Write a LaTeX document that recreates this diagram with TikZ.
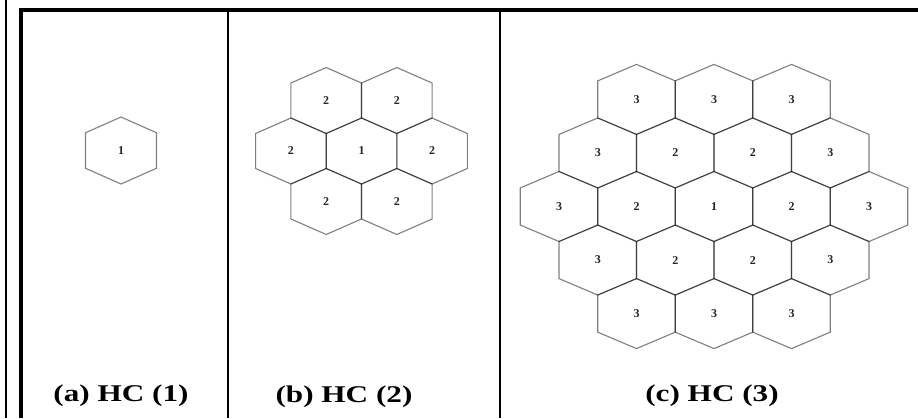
\documentclass[tikz,border=0pt]{standalone}
\usepackage{fontspec}
\setmainfont{Liberation Serif}

\tikzset{
  hexline/.style={draw=black, draw opacity=0.5, line width=1.1pt},
  cell/.style={font=\bfseries\fontsize{12}{12}\selectfont, text=black!85, inner sep=0pt},
  caption/.style={font=\bfseries\fontsize{24}{26}\selectfont, anchor=base, xscale=1.3, transform shape},
  frame/.style={line width=2.6pt}
}

% one honeycomb cell: name, column, row, number
\newcommand{\hexcell}[4]{%
  \draw[hexline] (#2,#3*1.53) +(0,-1) -- +(0.5,-0.53) -- +(0.5,0.53) -- +(0,1)
    -- +(-0.5,0.53) -- +(-0.5,-0.53) -- cycle;
  \node[cell] (#1) at (#2,#3*1.53) {#4};}

\begin{document}
\begin{tikzpicture}[x=1pt, y=-1pt]
  \useasboundingbox (0,0) rectangle (918,418);
  \fill[white] (0,0) rectangle (918,418);

  % frame
  \draw[line width=1.2pt] (6,0) -- (6,418);
  \draw[frame, line width=3.2pt] (21,418) -- (21,10) -- (918,10);
  \draw[frame] (228,10) -- (228,418);
  \draw[frame] (500,10) -- (500,418);

  % (a)
  \begin{scope}[shift={(121,150.5)}, xscale=71, yscale=33.5]
    \hexcell{hca1}{0}{0}{1}
  \end{scope}

  % (b)
  \begin{scope}[shift={(361.5,151)}, xscale=70.6, yscale=33]
    \foreach \r/\c/\n [count=\k] in {-1/-0.5/2, -1/0.5/2,
        0/-1/2, 0/0/1, 0/1/2,
        1/-0.5/2, 1/0.5/2}
      {\hexcell{hcb\k}{\c}{\r}{\n}}
  \end{scope}

  % (c)
  \begin{scope}[shift={(714,206.5)}, xscale=77.5, yscale=35]
    \foreach \r/\c/\n [count=\k] in {-2/-1/3, -2/0/3, -2/1/3,
        -1/-1.5/3, -1/-0.5/2, -1/0.5/2, -1/1.5/3,
        0/-2/3, 0/-1/2, 0/0/1, 0/1/2, 0/2/3,
        1/-1.5/3, 1/-0.5/2, 1/0.5/2, 1/1.5/3,
        2/-1/3, 2/0/3, 2/1/3}
      {\hexcell{hcc\k}{\c}{\r}{\n}}
  \end{scope}

  % captions
  \node[caption] (capA) at (121,401) {(a) HC (1)};
  \node[caption] (capB) at (344,402) {(b) HC (2)};
  \node[caption] (capC) at (712,401.5) {(c) HC (3)};
\end{tikzpicture}
\end{document}
